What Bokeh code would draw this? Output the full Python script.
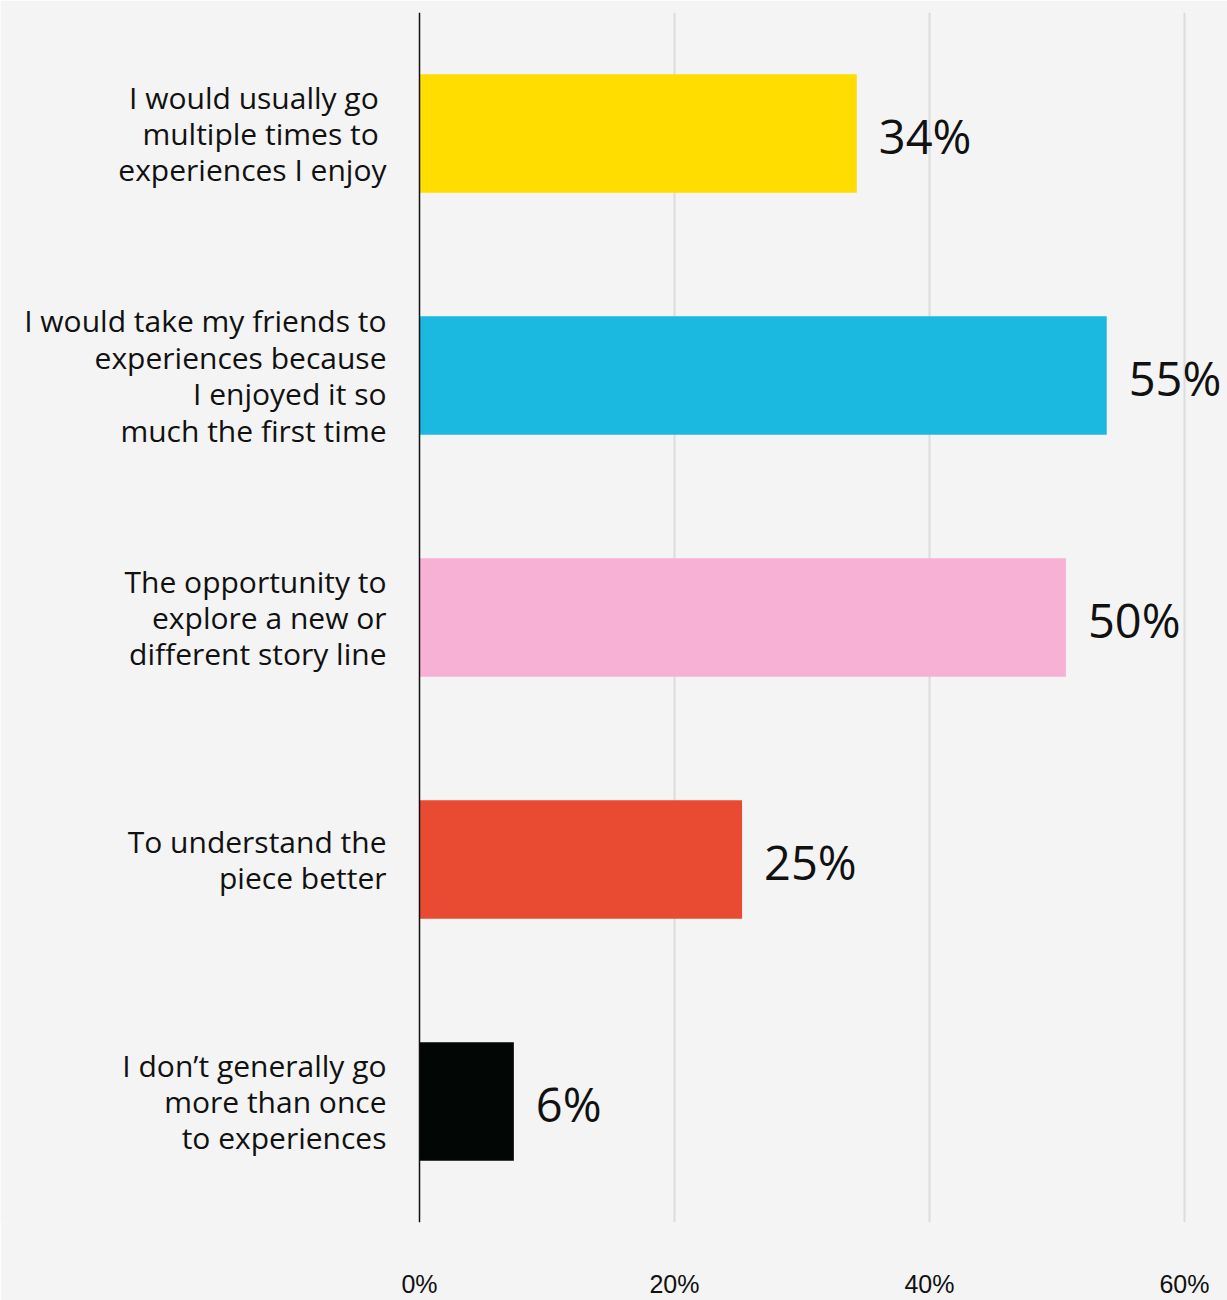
from bokeh.plotting import figure
from bokeh.models import ColumnDataSource, FactorRange, Range1d, FixedTicker, Span
from bokeh.core.properties import value
from bokeh.embed import file_html
from bokeh.resources import INLINE

categories = [
    "I would usually go \nmultiple times to \nexperiences I enjoy",
    "I would take my friends to\nexperiences because\nI enjoyed it so\nmuch the first time",
    "The opportunity to\nexplore a new or\ndifferent story line",
    "To understand the\npiece better",
    "I don\u2019t generally go\nmore than once\nto experiences",
]
values = [34.3, 53.9, 50.7, 25.3, 7.4]
value_labels = ["34%", "55%", "50%", "25%", "6%"]
colors = ["#FFDD00", "#1BB9E0", "#F6B1D4", "#E84A32", "#020605"]
tick_values = [0, 20, 40, 60]
tick_labels = ["0%", "20%", "40%", "60%"]

BG = "#F4F4F4"
px_per_unit = 765 / 60.0
x_left = -419 / px_per_unit
x_right = (1227 - 419) / px_per_unit

src = ColumnDataSource(dict(cat=categories, val=values, lab=value_labels, col=colors))

p = figure(width=1227, height=1300, output_backend="svg", toolbar_location=None,
           y_range=FactorRange(factors=list(reversed(categories))),
           x_range=Range1d(x_left, x_right),
           min_border_left=0, min_border_right=0, min_border_top=12, min_border_bottom=78)
p.background_fill_color = BG
p.border_fill_color = BG
p.outline_line_color = None

p.hbar(y="cat", left=0, right="val", height=0.49, color="col", line_color=None, source=src)

# value labels
p.text(x="val", y="cat", text="lab", source=src, x_offset=22, y_offset=2,
       text_align="left", text_baseline="middle",
       text_font=value("Open Sans"), text_font_size="47px", text_color="#111111")

# category labels
p.text(x=0, y="cat", text="cat", source=src, x_offset=-33,
       text_align="right", text_baseline="middle", text_line_height=0.89,
       text_font=value("Open Sans"), text_font_size="30px", text_color="#111111")

p.add_layout(Span(location=0, dimension="height", line_color="#111111", line_width=1.5))

p.yaxis.visible = False
p.ygrid.visible = False
p.xgrid.ticker = FixedTicker(ticks=tick_values[1:])
p.xgrid.grid_line_color = "#DCDCDC"
p.xgrid.grid_line_width = 2

p.xaxis.ticker = FixedTicker(ticks=tick_values)
p.xaxis.major_label_overrides = {t: l for t, l in zip(tick_values, tick_labels)}
p.xaxis.axis_line_color = None
p.xaxis.major_tick_line_color = None
p.xaxis.minor_tick_line_color = None
p.xaxis.major_tick_out = 0
p.xaxis.major_label_standoff = 47
p.xaxis.major_label_text_font = "Liberation Sans"
p.xaxis.major_label_text_font_size = "25px"
p.xaxis.major_label_text_color = "#111111"

open("out.html", "w").write(file_html(p, INLINE))
